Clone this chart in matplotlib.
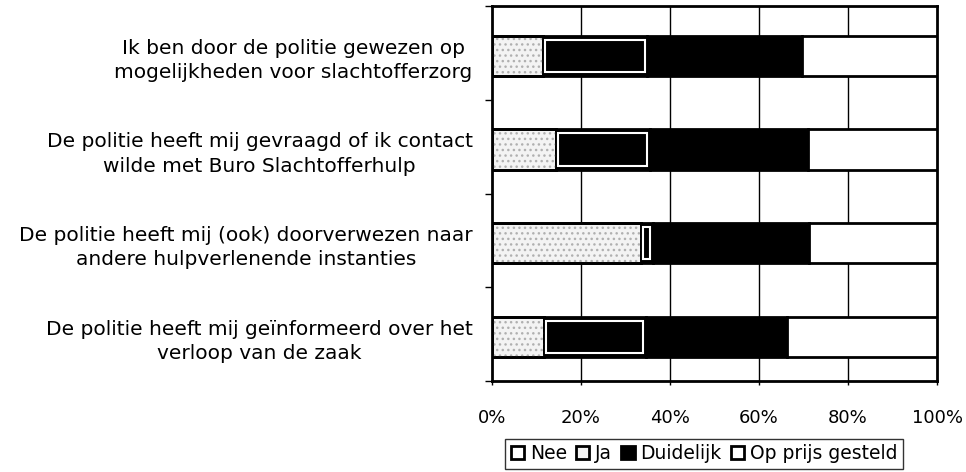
import matplotlib
matplotlib.use("Agg")
import matplotlib.pyplot as plt
import numpy as np
from matplotlib.patches import Patch

categories = [
    "Ik ben door de politie gewezen op\nmogelijkheden voor slachtofferzorg",
    "De politie heeft mij gevraagd of ik contact\nwilde met Buro Slachtofferhulp",
    "De politie heeft mij (ook) doorverwezen naar\nandere hulpverlenende instanties",
    "De politie heeft mij geïnformeerd over het\nverloop van de zaak",
]
series_names = ["Nee", "Ja", "Duidelijk", "Op prijs gesteld"]
nee = [11.4, 14.4, 33.4, 11.7]
ja = [23.4, 21.0, 2.7, 22.8]
duidelijk = [34.8, 35.7, 35.2, 31.7]
op_prijs = [30.4, 28.9, 28.7, 33.8]
xticks = [0, 20, 40, 60, 80, 100]
xticklabels = ["0%", "20%", "40%", "60%", "80%", "100%"]

plt.rcParams['font.family'] = ['DejaVu Sans']

fig = plt.figure(figsize=(9.66, 4.72), dpi=100)
ax = fig.add_axes([492/966, 1-381/472, (937-492)/966, (381-6)/472])

y = np.arange(len(categories)) + 0.03
h = 0.43
series = [("nee", nee, "#f3f3f3"), ("ja", ja, "black"),
          ("duidelijk", duidelijk, "black"), ("op_prijs", op_prijs, "white")]
left = np.zeros(len(categories))
for name, vals, fc in series:
    vals = np.array(vals, dtype=float)
    ax.barh(y, vals, left=left, height=h, color=fc, edgecolor="black", linewidth=2, zorder=3)
    if name == "nee":
        ax.barh(y, vals, left=left, height=h, color="none", edgecolor="#b0b0b0",
                hatch="...", linewidth=0, zorder=3.5)
        ax.barh(y, vals, left=left, height=h, color="none", edgecolor="black", linewidth=2, zorder=3.6)
    if name == "ja":
        ax.barh(y, vals - 1.0, left=left + 0.5, height=h * 0.8, color="none",
                edgecolor="white", linewidth=1.5, zorder=4)
    left = left + vals

ax.set_xlim(0, 100)
ax.set_ylim(len(categories) - 0.5, -0.5)
ax.set_xticks(xticks)
ax.set_xticklabels(xticklabels, fontsize=13)
ax.set_yticks(y)
ax.set_yticklabels(categories, fontsize=14.5, multialignment="center", linespacing=1.35)
ax.set_yticks(np.arange(-0.5, len(categories), 1.0), minor=True)
ax.tick_params(axis="y", which="major", length=0, pad=14)
ax.tick_params(axis="y", which="minor", length=5, width=1, direction="out")
ax.tick_params(axis="x", which="major", length=3, width=1, direction="out", pad=17)
for s in ax.spines.values():
    s.set_linewidth(2)
    s.set_color("black")
for xv in xticks[1:-1]:
    ax.axvline(xv, color="black", linewidth=1, zorder=1)

handles = [Patch(facecolor=fc, edgecolor="black", linewidth=2) for fc in ["white", "#f3f3f3", "black", "white"]]
leg = fig.legend(handles, series_names, loc="center", bbox_to_anchor=(704/966, 1-453.7/472),
                 ncol=4, fontsize=13.5, frameon=True, fancybox=False, edgecolor="black",
                 handlelength=0.7, handleheight=0.7, handletextpad=0.3, columnspacing=0.5,
                 borderpad=0.3, borderaxespad=0)
leg.get_frame().set_linewidth(1)

fig.savefig("out.png", dpi=100)
